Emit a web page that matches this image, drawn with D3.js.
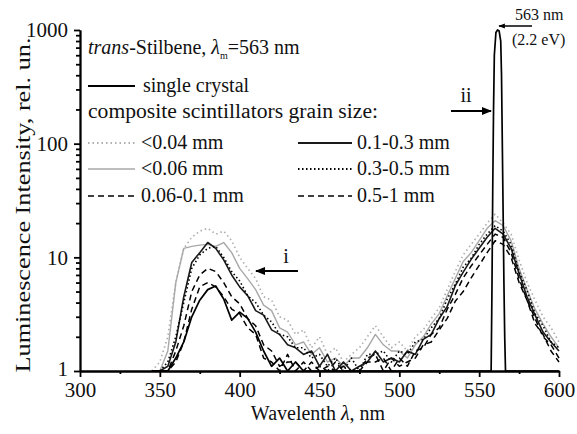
<!DOCTYPE html>
<html><head><meta charset="utf-8">
<script src="https://cdn.jsdelivr.net/npm/d3@7"></script>
<style>
body{margin:0;background:#fff}
text{font-family:"Liberation Serif","Times New Roman",serif;fill:#111}
</style>
</head><body><svg id="c" width="577" height="434"></svg>
<script>
// ---------- data ----------
const wavelengths = [345,350,355,360,365,370,375,380,385,390,395,400,405,410,415,420,425,430,435,440,445,450,455,460,465,470,475,480,485,490,495,500,505,510,515,520,525,530,535,540,545,550,555,560,565,570,575,580,585,590,595,600];
const lt004 = [1,1.2,2.0,6,12,15,17,18,16,17,14,10,8,6.5,4.5,4.2,3.0,2.8,2.1,2.3,1.6,2.0,1.4,1.6,1.2,1.4,1.6,2.0,2.5,2.0,1.6,1.8,1.5,2.0,2.3,2.9,3.6,5.2,7.5,10.5,13,16,20,24,20,16,9.5,6,4.2,3,2.4,1.8];
const lt006 = [1,1,1.5,6,12,12.5,12.8,13,12.5,13.5,11,8,6.5,5.2,3.8,3.4,2.4,2.2,1.7,1.8,1.4,1.6,1.2,1.3,1.1,1.3,1.3,1.6,2.1,1.7,1.5,1.5,1.3,1.7,2.0,2.6,3.2,4.6,6.5,9.2,11,14,18,21,19,14,8,5.2,3.5,2.6,2,1.6];
const s006_01 = [1,1,1,1.2,1.8,3.5,5.5,6,5.5,4.5,3.5,3.2,2.4,2.1,1.3,1.2,1.0,1.4,1.0,1.2,1.0,1.1,1.0,1.2,1.0,1.0,1.0,1.3,1.4,1.0,1.3,1.1,1.2,1.3,1.7,1.8,2.3,2.9,4.1,5.0,6.6,8.5,11,14,13,10,6,4.2,2.6,2.1,1.5,1.2];
const s01_03 = [1,1,1.1,1.8,4.5,9,11,13.5,12,9.5,7,5.5,4.6,3.4,3.1,2.3,2.1,1.7,1.6,1.4,1.5,1.1,1.4,1.0,1.2,1.0,1.1,1.2,1.5,1.2,1.3,1.2,1.5,1.4,1.9,2.1,2.9,3.7,5.6,7.4,9.6,12,15,18,16,12,7.2,4.5,3.1,2.2,1.8,1.5];
const s03_05 = [1,1,1.2,2.0,4.0,8,10.5,12,12.5,10,7.5,6.2,4.6,4.0,3.1,2.7,2.1,2.0,1.6,1.6,1.3,1.4,1.1,1.3,1.0,1.3,1.0,1.4,1.4,1.5,1.2,1.5,1.4,1.8,1.9,2.4,2.9,4.3,5.8,8.2,9.8,13,16,19,17,13,7.5,5.1,3.2,2.5,1.8,1.6];
const s05_1 = [1,1,1,1.5,2.5,5,7,8,7.5,6,4.5,3.9,2.9,2.5,1.7,1.5,1.1,1.2,1.2,1.0,1.2,1.0,1.1,1.0,1.1,1.0,1.0,1.2,1.2,1.3,1.0,1.3,1.1,1.5,1.6,2.1,2.4,3.5,4.7,6.6,8.4,10.5,13,16,15,11,6.5,4.2,2.9,2.0,1.7,1.3];
// single crystal: own wavelength grid (narrow peak at 563 nm)
const crystalWavelengths = [345,350,355,360,365,370,375,380,385,390,395,400,405,410,415,420,425,430,435,440,450,460,480,500,520,540,550,557.5,558,558.5,559,559.5,560.5,561.5,562.5,563.5,564,564.5,565,565.5,566,566.5,570,580,590,600];
const crystal = [1,1,1,1.3,1.8,3.0,4.2,5.2,5.6,4.3,2.8,3.3,2.9,2.2,1.5,1.1,1.3,1,1.2,1,1,1,1,1,1,1,1,1,5,40,200,600,950,1000,980,800,400,100,25,6,2,1,1,1,1,1];

const seriesNames = ["<0.04 mm","<0.06 mm","0.06-0.1 mm","0.1-0.3 mm","0.3-0.5 mm","0.5-1 mm"];
const seriesValues = [lt004, lt006, s006_01, s01_03, s03_05, s05_1];
const xTicks = [300,350,400,450,500,550,600];
const xMinorTicks = [325,375,425,475,525,575];
const yTicks = [1,10,100,1000];

// ---------- styles ----------
const styles = {
  "single crystal": {stroke:"#000", w:1.7, dash:null},
  "<0.04 mm": {stroke:"#b0b0b0", w:1.7, dash:"1.5,3"},
  "<0.06 mm": {stroke:"#a8a8a8", w:1.4, dash:null},
  "0.06-0.1 mm": {stroke:"#000", w:1.5, dash:"6,4"},
  "0.1-0.3 mm": {stroke:"#1a1a1a", w:1.6, dash:null},
  "0.3-0.5 mm": {stroke:"#000", w:1.6, dash:"1.5,2.5"},
  "0.5-1 mm": {stroke:"#000", w:1.5, dash:"6,4"}
};

const svg = d3.select("#c");
const x = d3.scaleLinear().domain([300,600]).range([80,559]);
const y = d3.scaleLog().domain([1,1000]).range([371,30]);

const defs = svg.append("defs");
defs.append("clipPath").attr("id","clip")
  .append("rect").attr("x",80).attr("y",20).attr("width",485).attr("height",351);
defs.append("marker").attr("id","arr").attr("viewBox","0 0 10 10")
  .attr("refX",9).attr("refY",5).attr("markerWidth",5).attr("markerHeight",5).attr("orient","auto")
  .append("path").attr("d","M0,1 L10,5 L0,9 Z").attr("fill","#000");

const line = d3.line().x(d=>x(d[0])).y(d=>y(Math.max(1,d[1])));
const plot = svg.append("g").attr("clip-path","url(#clip)");

function drawSeries(name, xs, vals){
  const st = styles[name];
  plot.append("path").datum(xs.map((w,i)=>[w,vals[i]]))
    .attr("d",line).attr("fill","none").attr("stroke",st.stroke)
    .attr("stroke-width",st.w).attr("stroke-dasharray",st.dash)
    .attr("stroke-linejoin","round");
}
seriesNames.forEach((n,i)=>drawSeries(n, wavelengths, seriesValues[i]));
drawSeries("single crystal", crystalWavelengths, crystal);

// ---------- axes ----------
const fs = 20;
const gx = svg.append("g").attr("transform","translate(0,371)")
  .call(d3.axisBottom(x).tickValues(xTicks).tickFormat(d3.format("d")).tickSize(6).tickSizeOuter(0).tickPadding(5));
const gxm = svg.append("g").attr("transform","translate(0,371)")
  .call(d3.axisBottom(x).tickValues(xMinorTicks).tickFormat("").tickSize(3).tickSizeOuter(0));
const gy = svg.append("g").attr("transform","translate(80,0)")
  .call(d3.axisLeft(y).tickValues(yTicks).tickFormat(d3.format("d")).tickSize(6).tickSizeOuter(0).tickPadding(6));
const minor = [];
[1,10,100].forEach(d=>{for(let k=2;k<=9;k++) minor.push(d*k);});
const gym = svg.append("g").attr("transform","translate(80,0)")
  .call(d3.axisLeft(y).tickValues(minor).tickFormat("").tickSize(4).tickSizeOuter(0));
[gx,gxm,gy,gym].forEach(g=>{
  g.selectAll("path,line").attr("stroke","#000").attr("stroke-width",1.8);
  g.selectAll("text").attr("font-size",21).attr("font-family","Liberation Serif").attr("fill","#111");
});
gy.selectAll("text").filter(d=>d===1).attr("dy","0.2em");

// axis titles
const xt = svg.append("text").attr("x",318).attr("y",420).attr("text-anchor","middle").attr("font-size",fs);
xt.append("tspan").text("Wavelenth ");
xt.append("tspan").attr("font-style","italic").text("λ");
xt.append("tspan").text(", nm");
svg.append("text").attr("transform","translate(30,205) rotate(-90)").attr("text-anchor","middle")
  .attr("font-size",21).attr("textLength",335).attr("lengthAdjust","spacingAndGlyphs")
  .text("Luminescence Intensity, rel. un.");

// ---------- legend ----------
const t0 = svg.append("text").attr("x",88).attr("y",54).attr("font-size",fs);
t0.append("tspan").attr("font-style","italic").text("trans");
t0.append("tspan").text("-Stilbene, ");
t0.append("tspan").attr("font-style","italic").text("λ");
t0.append("tspan").attr("font-size",10).attr("dy",5).text("m");
t0.append("tspan").attr("dy",-5).text("=563 nm");

function legendItem(name, x0, x1, yy, tx){
  const st = styles[name];
  svg.append("line").attr("x1",x0).attr("x2",x1).attr("y1",yy).attr("y2",yy)
    .attr("stroke",st.stroke).attr("stroke-width",st.w+0.2).attr("stroke-dasharray",st.dash);
  svg.append("text").attr("x",tx).attr("y",yy+6).attr("font-size",fs).text(name);
}
legendItem("single crystal", 88, 135, 86, 143);
svg.append("text").attr("x",88).attr("y",118).attr("font-size",fs)
  .attr("textLength",290).attr("lengthAdjust","spacingAndGlyphs").text("composite scintillators grain size:");
const leftCol = [0,1,2], rightCol = [3,4,5], rowsY = [143,169,196];
leftCol.forEach((si,r)=>legendItem(seriesNames[si], 88, 135, rowsY[r], 141));
rightCol.forEach((si,r)=>legendItem(seriesNames[si], 298, 352, rowsY[r], 357));

// ---------- annotations ----------
svg.append("text").attr("x",286).attr("y",263).attr("text-anchor","middle").attr("font-size",fs).text("i");
svg.append("line").attr("x1",298).attr("y1",271).attr("x2",256).attr("y2",271)
  .attr("stroke","#000").attr("stroke-width",2).attr("marker-end","url(#arr)");
svg.append("text").attr("x",466).attr("y",102).attr("text-anchor","middle").attr("font-size",fs).text("ii");
svg.append("line").attr("x1",451).attr("y1",111).attr("x2",491).attr("y2",111)
  .attr("stroke","#000").attr("stroke-width",2).attr("marker-end","url(#arr)");
svg.append("line").attr("x1",532).attr("y1",26).attr("x2",499).attr("y2",26)
  .attr("stroke","#000").attr("stroke-width",1.3).attr("marker-end","url(#arr)");
svg.append("text").attr("x",515).attr("y",20).attr("font-size",16).text("563 nm");
svg.append("text").attr("x",512).attr("y",45).attr("font-size",16).text("(2.2 eV)");
</script></body></html>
